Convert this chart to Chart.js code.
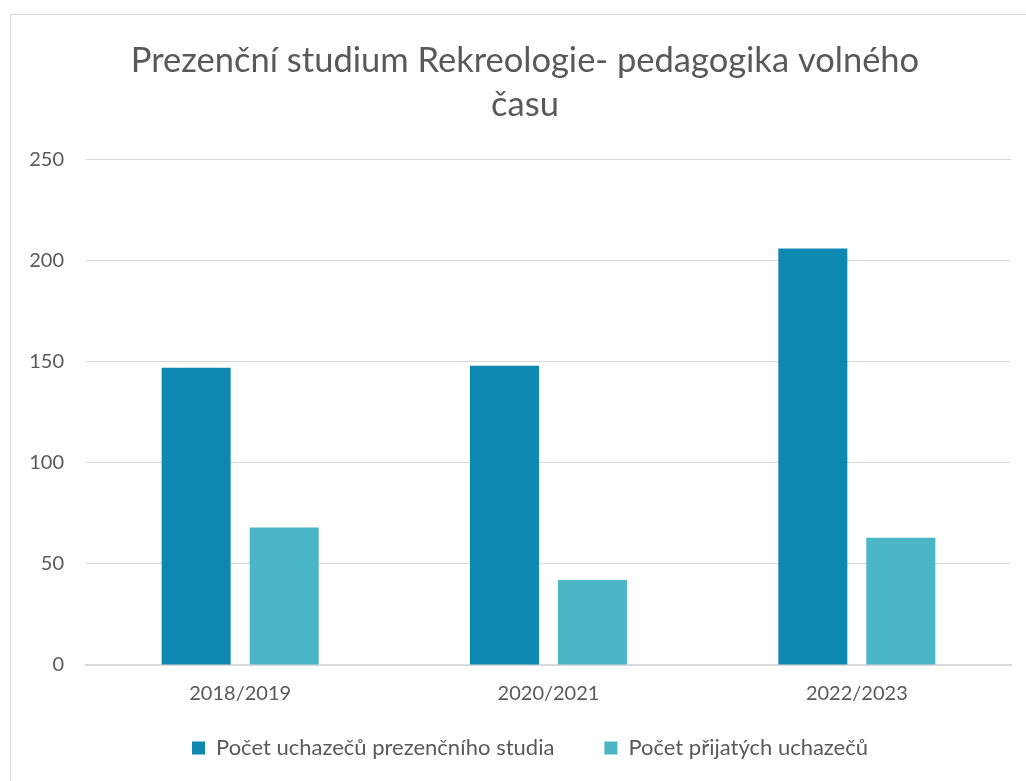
<!DOCTYPE html>
<html>
<head>
<meta charset="utf-8">
<script src="https://cdn.jsdelivr.net/npm/chart.js@4"></script>
<style>
  html, body { margin: 0; padding: 0; background: #fff; overflow: hidden; }
  #box {
    position: absolute; left: 10px; top: 14px;
    width: 1030px; height: 780px;
    border: 1px solid #d9d9d9;
  }
  #chart { position: absolute; left: 0; top: 0; }
</style>
</head>
<body>
<div id="box"><canvas id="chart" width="1030" height="766"></canvas></div>
<script>
const years = ['2018/2019', '2020/2021', '2022/2023'];
const applicants = [147, 148, 206];
const admitted = [68, 42, 63];
const yTicks = [0, 50, 100, 150, 200, 250];

const txt = '#595959';
const fontFam = 'Lato, "Open Sans", sans-serif';

// nudge title/legend like in the excel original (centred on the whole frame, legend tucked up)
const nudgeBoxes = {
    id: 'nudgeBoxes',
    afterLayout(chart) {
        chart.titleBlock.left += 28;
        chart.legend.left += 19;
        chart.legend.right += 19;
        chart.legend.top -= 36;
        chart.legend.bottom -= 36;
    }
};

const ctx = document.getElementById('chart');
new Chart(ctx, {
    type: 'bar',
    data: {
        labels: years,
        datasets: [{
            label: 'Počet uchazečů prezenčního studia',
            data: applicants,
            backgroundColor: '#0e87b1'
        }, {
            label: 'Počet přijatých uchazečů',
            data: admitted,
            backgroundColor: '#4bb6c6'
        }]
    },
    options: {
        responsive: false,
        animation: false,
        categoryPercentage: 0.571,
        barPercentage: 0.784,
        layout: { padding: { left: 0, right: 30, top: 24, bottom: -24 } },
        scales: {
            x: {
                grid: { display: false, drawTicks: false },
                border: { color: '#d9d9d9', width: 2 },
                ticks: { color: txt, font: { family: fontFam, size: 20 }, padding: 17 }
            },
            y: {
                min: yTicks[0],
                max: yTicks[yTicks.length - 1],
                afterBuildTicks: axis => { axis.ticks = yTicks.map(v => ({ value: v })); },
                grid: { color: '#d9d9d9', drawTicks: false },
                border: { display: false },
                ticks: { color: txt, font: { family: fontFam, size: 20 }, padding: 22 },
                afterFit: axis => { axis.width = 75; }
            }
        },
        plugins: {
            title: {
                display: true,
                text: ['Prezenční studium Rekreologie- pedagogika volného', 'času'],
                color: txt,
                font: { family: fontFam, size: 34.5, weight: 'normal', lineHeight: 1.27 },
                padding: { top: 0, bottom: 33 }
            },
            legend: {
                position: 'bottom',
                labels: {
                    color: txt,
                    font: { family: fontFam, size: 22 },
                    boxWidth: 13,
                    boxHeight: 13,
                    padding: 50
                }
            },
            tooltip: { enabled: false }
        }
    },
    plugins: [nudgeBoxes]
});
</script>
</body>
</html>
